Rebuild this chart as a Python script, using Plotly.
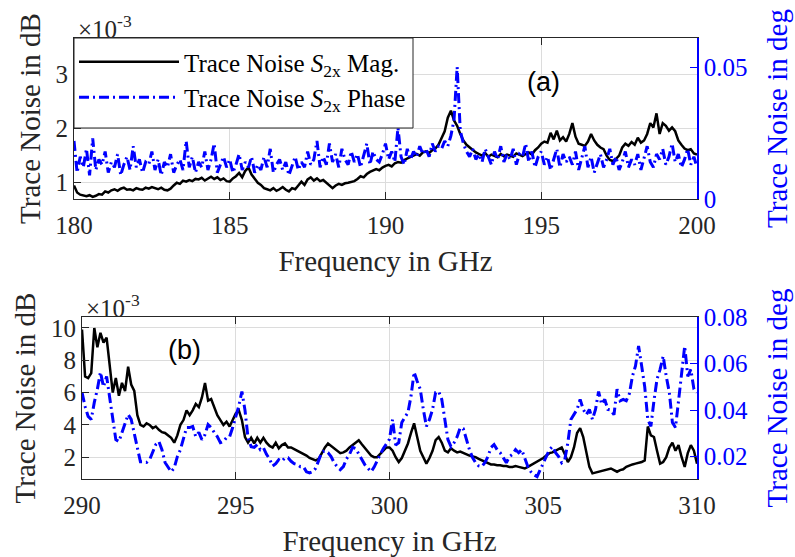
import numpy as np
import plotly.graph_objects as go

# ---------------- data ----------------
freq_a = [round(180 + 0.1 * i, 1) for i in range(201)]
# Trace noise S2x magnitude (x1e-3 dB), 180-200 GHz
mag_a_milli = [
    0.95, 0.82, 0.78, 0.76, 0.75, 0.77, 0.74, 0.76, 0.79, 0.78,
    0.84, 0.82, 0.86, 0.88, 0.85, 0.89, 0.91, 0.87, 0.88, 0.86,
    0.90, 0.88, 0.87, 0.91, 0.89, 0.92, 0.90, 0.88, 0.91, 0.87,
    0.86, 0.89, 0.95, 1.00, 0.98, 1.04, 1.02, 1.05, 1.03, 1.07,
    1.06, 1.09, 1.04, 1.08, 1.11, 1.07, 1.10, 1.05, 1.08, 1.03,
    1.02, 1.08, 1.12, 1.18, 1.10, 1.22, 1.28, 1.15, 1.08, 1.00,
    0.96, 0.90, 0.88, 0.86, 0.90, 0.85, 0.88, 0.92, 0.87, 0.84,
    0.90, 0.88, 0.95, 1.02, 0.96, 1.06, 1.10, 1.04, 1.08, 1.03,
    1.05, 1.00, 0.94, 0.90, 0.95, 0.98, 0.96, 0.99, 1.00, 1.02,
    1.03, 1.07, 1.12, 1.10, 1.16, 1.20, 1.22, 1.25, 1.23, 1.28,
    1.31, 1.33, 1.30, 1.36, 1.38, 1.37, 1.42, 1.45, 1.48, 1.50,
    1.53, 1.50, 1.56, 1.58, 1.55, 1.60, 1.63, 1.70, 1.83, 1.95,
    2.20, 2.33, 2.15, 2.05, 1.90, 1.78, 1.70, 1.65, 1.60, 1.56,
    1.53, 1.50, 1.55, 1.48, 1.52, 1.50, 1.47, 1.53, 1.49, 1.52,
    1.50, 1.48, 1.54, 1.51, 1.49, 1.53, 1.56, 1.52, 1.60, 1.65,
    1.72, 1.76, 1.74, 1.92, 1.80, 1.96, 1.78, 1.84, 1.76, 1.90,
    2.10, 1.85, 1.72, 1.70, 1.68, 1.76, 1.90, 1.78, 1.70, 1.65,
    1.62, 1.50, 1.42, 1.40, 1.44, 1.50, 1.65, 1.72, 1.68, 1.75,
    1.70, 1.83, 1.74, 1.78, 1.90, 2.10, 2.02, 2.28, 1.90, 2.10,
    2.05, 1.96, 2.02, 1.95, 1.78, 1.70, 1.63, 1.60, 1.62, 1.54,
    1.52,
]
# Trace noise S2x phase (deg), 180-200 GHz
phase_a_deg = [
    0.022, 0.010, 0.016, 0.012, 0.019, 0.009, 0.023, 0.011, 0.015, 0.013,
    0.018, 0.010, 0.014, 0.012, 0.017, 0.009, 0.013, 0.016, 0.011, 0.020,
    0.012, 0.015, 0.010, 0.014, 0.013, 0.018, 0.011, 0.015, 0.009, 0.014,
    0.012, 0.017, 0.010, 0.013, 0.015, 0.011, 0.022, 0.012, 0.016, 0.010,
    0.014, 0.012, 0.018, 0.011, 0.015, 0.021, 0.010, 0.013, 0.016, 0.012,
    0.015, 0.010, 0.013, 0.017, 0.011, 0.014, 0.012, 0.016, 0.010, 0.013,
    0.011, 0.016, 0.012, 0.019, 0.010, 0.013, 0.015, 0.011, 0.014, 0.009,
    0.013, 0.016, 0.011, 0.014, 0.012, 0.018, 0.013, 0.015, 0.022, 0.012,
    0.016, 0.013, 0.021, 0.014, 0.017, 0.012, 0.019, 0.015, 0.013, 0.018,
    0.014, 0.017, 0.012, 0.016, 0.021, 0.013, 0.018, 0.015, 0.014, 0.017,
    0.021, 0.015, 0.018, 0.014, 0.027, 0.016, 0.013, 0.019, 0.015, 0.018,
    0.016, 0.020, 0.017, 0.019, 0.016, 0.021, 0.018, 0.020, 0.019, 0.022,
    0.020, 0.024, 0.030, 0.050, 0.026, 0.021, 0.018, 0.016, 0.019, 0.015,
    0.017, 0.014, 0.019, 0.016, 0.013, 0.018, 0.015, 0.020, 0.014, 0.017,
    0.015, 0.019, 0.013, 0.017, 0.016, 0.021, 0.014, 0.018, 0.012, 0.016,
    0.018, 0.013, 0.016, 0.011, 0.015, 0.019, 0.012, 0.017, 0.014, 0.016,
    0.013, 0.018, 0.011, 0.015, 0.020, 0.012, 0.016, 0.010, 0.014, 0.017,
    0.012, 0.015, 0.019, 0.013, 0.016, 0.011, 0.014, 0.018, 0.012, 0.015,
    0.013, 0.017, 0.011, 0.016, 0.020, 0.014, 0.012, 0.017, 0.015, 0.019,
    0.013, 0.016, 0.021, 0.014, 0.017, 0.012, 0.015, 0.019, 0.013, 0.016,
    0.012,
]

freq_b = [round(290 + 0.1 * i, 1) for i in range(201)]
# Trace noise S2x magnitude (x1e-3 dB), 290-310 GHz
mag_b_milli = [
    9.9, 7.0, 6.9, 7.2, 10.0, 8.8, 9.7, 9.1, 9.4, 7.8,
    6.0, 6.9, 5.8, 6.6, 6.1, 7.6, 6.5, 6.1, 4.6, 4.0,
    3.9, 4.1, 4.0, 3.8, 3.9, 3.7, 3.55, 3.5, 3.35, 3.2,
    2.9, 3.35, 4.0, 4.3, 4.9, 4.6, 4.9, 5.3, 5.1, 5.7,
    6.6, 5.5, 5.6, 5.1, 4.6, 4.3, 4.0, 4.2, 3.9, 4.3,
    4.7, 4.9, 4.3, 3.25, 2.9, 3.2, 2.85, 3.2, 2.9, 3.2,
    2.9, 2.7, 2.6, 2.9, 2.55, 2.75, 2.85, 2.6, 2.6, 2.5,
    2.4, 2.3, 2.25, 2.1, 1.95, 1.85, 1.8, 1.9, 2.25, 2.6,
    2.85, 2.7, 2.55, 2.4, 2.25, 2.3, 2.4, 2.6, 2.75, 2.9,
    3.05, 2.8, 2.55, 2.3, 2.1, 2.0, 2.0, 2.2, 2.4, 2.6,
    2.6, 2.4, 2.0, 1.7, 1.95, 2.4, 2.85, 3.5, 4.1, 3.25,
    2.4, 2.0, 1.6, 1.95, 2.4, 3.05, 3.25, 2.9, 2.4, 2.3,
    2.55, 2.4, 2.3, 2.35, 2.25, 2.2, 2.1, 2.05, 2.0, 1.9,
    1.8, 1.7, 1.6, 1.55, 1.55, 1.5, 1.5, 1.45, 1.45, 1.4,
    1.4, 1.45, 1.4, 1.35, 1.3, 1.4, 1.5, 1.6, 1.7, 1.8,
    1.95, 2.1, 2.25, 2.3, 2.4, 2.5, 2.6, 2.2, 1.7, 2.0,
    2.6, 3.5, 3.8, 3.25, 2.4, 1.4, 1.0, 1.05, 1.1, 1.15,
    1.2, 1.25, 1.3, 1.2, 1.1, 1.2, 1.25, 1.4, 1.5, 1.55,
    1.6, 1.65, 1.7, 1.8, 3.9, 3.35, 3.25, 2.4, 1.6, 1.7,
    2.0, 2.6, 2.9, 2.4, 2.75, 2.0, 1.4, 2.25, 2.75, 2.4,
    1.6,
]
# Trace noise S2x phase (deg), 290-310 GHz
phase_b_deg = [
    0.0476, 0.0416, 0.0373, 0.0360, 0.0433, 0.0490, 0.0563, 0.0500, 0.0545, 0.0460,
    0.0373, 0.0273, 0.0265, 0.0304, 0.0351, 0.0381, 0.0360, 0.0295, 0.0230, 0.0178,
    0.0178, 0.0175, 0.0187, 0.0217, 0.0252, 0.0265, 0.0230, 0.0175, 0.0152, 0.0135,
    0.0152, 0.0200, 0.0230, 0.0273, 0.0325, 0.0325, 0.0330, 0.0286, 0.0304, 0.0273,
    0.0295, 0.0338, 0.0325, 0.0304, 0.0286, 0.0260, 0.0265, 0.0282, 0.0286, 0.0325,
    0.0373, 0.0418, 0.0480, 0.0400, 0.0280, 0.0243, 0.0240, 0.0252, 0.0230, 0.0238,
    0.0210, 0.0190, 0.0160, 0.0170, 0.0187, 0.0180, 0.0195, 0.0195, 0.0180, 0.0170,
    0.0166, 0.0157, 0.0157, 0.0135, 0.0130, 0.0135, 0.0150, 0.0190, 0.0220, 0.0225,
    0.0217, 0.0200, 0.0174, 0.0157, 0.0144, 0.0157, 0.0190, 0.0210, 0.0240, 0.0235,
    0.0210, 0.0190, 0.0165, 0.0150, 0.0135, 0.0155, 0.0185, 0.0210, 0.0235, 0.0255,
    0.0275, 0.0360, 0.0250, 0.0260, 0.0347, 0.0369, 0.0390, 0.0460, 0.0563, 0.0524,
    0.0490, 0.0403, 0.0330, 0.0360, 0.0403, 0.0476, 0.0480, 0.0446, 0.0360, 0.0273,
    0.0243, 0.0260, 0.0286, 0.0325, 0.0320, 0.0273, 0.0230, 0.0196, 0.0174, 0.0160,
    0.0157, 0.0174, 0.0200, 0.0239, 0.0252, 0.0230, 0.0217, 0.0196, 0.0174, 0.0200,
    0.0210, 0.0230, 0.0217, 0.0230, 0.0196, 0.0157, 0.0135, 0.0122, 0.0114, 0.0144,
    0.0174, 0.0200, 0.0230, 0.0243, 0.0217, 0.0200, 0.0174, 0.0187, 0.0260, 0.0360,
    0.0380, 0.0403, 0.0446, 0.0403, 0.0380, 0.0403, 0.0360, 0.0403, 0.0480, 0.0425,
    0.0446, 0.0403, 0.0400, 0.0380, 0.0490, 0.0440, 0.0446, 0.0440, 0.0470, 0.0545,
    0.0590, 0.0675, 0.0590, 0.0500, 0.0360, 0.0330, 0.0440, 0.0533, 0.0575, 0.0632,
    0.0545, 0.0476, 0.0347, 0.0325, 0.0440, 0.0563, 0.0675, 0.0545, 0.0575, 0.0490,
    0.0476,
]

xticks_a = [180, 185, 190, 195, 200]
xticks_b = [290, 295, 300, 305, 310]
yl_ticks_a = [1, 2, 3]
yl_ticks_b = [2, 4, 6, 8, 10]
yr_ticks_a = [0, 0.05]
yr_ticks_b = [0.02, 0.04, 0.06, 0.08]

# ---------------- style ----------------
W, H = 795, 557
SERIF = "Liberation Serif, Times New Roman, serif"
AX = "#262626"
BLUE = "#0000ff"
GRID = "#dcdcdc"
TICK_FS = 25
TITLE_FS = 29
DASH = "10px,4px,2px,4px"

def px_x(p):
    return p / W

def px_y(p):
    return 1 - p / H

fig = go.Figure()
fig.add_trace(go.Scatter(x=freq_a, y=np.array(mag_a_milli) * 1e-3, xaxis="x", yaxis="y",
                         mode="lines", line=dict(color="black", width=2.5),
                         name="Trace Noise <i>S</i><sub>2x</sub> Mag."))
fig.add_trace(go.Scatter(x=freq_a, y=phase_a_deg, xaxis="x", yaxis="y2",
                         mode="lines", line=dict(color=BLUE, width=3, dash=DASH),
                         name="Trace Noise <i>S</i><sub>2x</sub> Phase"))
fig.add_trace(go.Scatter(x=freq_b, y=np.array(mag_b_milli) * 1e-3, xaxis="x2", yaxis="y3",
                         mode="lines", line=dict(color="black", width=2.5), showlegend=False))
fig.add_trace(go.Scatter(x=freq_b, y=phase_b_deg, xaxis="x2", yaxis="y4",
                         mode="lines", line=dict(color=BLUE, width=3, dash=DASH), showlegend=False))

common_x = dict(showline=True, linecolor=AX, linewidth=1, mirror="ticks", ticks="inside",
                ticklen=7, tickcolor=AX, showgrid=True, gridcolor=GRID, gridwidth=1,
                zeroline=False, tickfont=dict(family=SERIF, size=TICK_FS, color=AX),
                automargin=False, ticklabelstandoff=4,
                title=dict(text="Frequency in GHz", font=dict(family=SERIF, size=TITLE_FS, color=AX),
                           standoff=12))
common_yl = dict(showline=True, linecolor=AX, linewidth=1, ticks="inside", ticklen=7,
                 tickcolor=AX, showgrid=True, gridcolor=GRID, zeroline=False,
                 tickfont=dict(family=SERIF, size=TICK_FS, color=AX), automargin=False,
                 title=dict(text="Trace Noise in dB", font=dict(family=SERIF, size=TITLE_FS, color=AX),
                            standoff=6))
common_yr = dict(showline=True, linecolor=BLUE, linewidth=1.5, ticks="inside", ticklen=7,
                 tickcolor=BLUE, showgrid=False, zeroline=False, side="right",
                 tickfont=dict(family=SERIF, size=TICK_FS, color=BLUE), automargin=False,
                 title=dict(text="Trace Noise in deg", font=dict(family=SERIF, size=TITLE_FS, color=BLUE),
                            standoff=20))

dom_xa = [px_x(74), px_x(697)]
dom_xb = [px_x(82), px_x(697)]
dom_ya = [px_y(199), px_y(38)]
dom_yb = [px_y(479), px_y(317)]

fig.update_layout(
    width=W, height=H, margin=dict(l=0, r=0, t=0, b=0),
    paper_bgcolor="white", plot_bgcolor="white",
    xaxis=dict(common_x, domain=dom_xa, anchor="y", range=[180, 200], tickvals=xticks_a),
    yaxis=dict(common_yl, domain=dom_ya, anchor="x", range=[0.7e-3, 3.67e-3],
               tickvals=[v * 1e-3 for v in yl_ticks_a], ticktext=[str(v) for v in yl_ticks_a]),
    yaxis2=dict(common_yr, overlaying="y", anchor="x", range=[0, 0.061], tickvals=yr_ticks_a,
                ticktext=["0", "0.05"]),
    xaxis2=dict(common_x, domain=dom_xb, anchor="y3", range=[290, 310], tickvals=xticks_b),
    yaxis3=dict(common_yl, domain=dom_yb, anchor="x2", range=[0.65e-3, 10.68e-3],
                tickvals=[v * 1e-3 for v in yl_ticks_b], ticktext=[str(v) for v in yl_ticks_b]),
    yaxis4=dict(common_yr, overlaying="y3", anchor="x2", range=[0.0104, 0.08], tickvals=yr_ticks_b,
                ticktext=["0.02", "0.04", "0.06", "0.08"]),
    legend=dict(x=px_x(74), y=px_y(39), xanchor="left", yanchor="top",
                bgcolor="rgba(0,0,0,0)", borderwidth=0,
                font=dict(family=SERIF, size=25, color="black"), itemwidth=100,
                tracegroupgap=0),
    showlegend=True,
)

# legend frame (white box with border, drawn above the data)
fig.add_shape(type="rect", xref="paper", yref="paper",
              x0=px_x(74), x1=px_x(413), y0=px_y(128), y1=px_y(38),
              fillcolor="white", line=dict(color=AX, width=1), layer="above")

fig.add_annotation(x=px_x(543), y=px_y(82), xref="paper", yref="paper", text="(a)",
                   xanchor="center", yanchor="middle", showarrow=False,
                   font=dict(family="Liberation Sans, Arial", size=27, color="black"))
fig.add_annotation(x=px_x(184), y=px_y(350), xref="paper", yref="paper", text="(b)",
                   xanchor="center", yanchor="middle", showarrow=False,
                   font=dict(family="Liberation Sans, Arial", size=27, color="black"))
fig.add_annotation(x=px_x(76), y=px_y(27), xref="paper", yref="paper", xanchor="left", yanchor="middle",
                   text="×10<sup>-3</sup>", showarrow=False,
                   font=dict(family=SERIF, size=TICK_FS, color=AX))
fig.add_annotation(x=px_x(84), y=px_y(306), xref="paper", yref="paper", xanchor="left", yanchor="middle",
                   text="×10<sup>-3</sup>", showarrow=False,
                   font=dict(family=SERIF, size=TICK_FS, color=AX))

fig.write_html("out.html")
